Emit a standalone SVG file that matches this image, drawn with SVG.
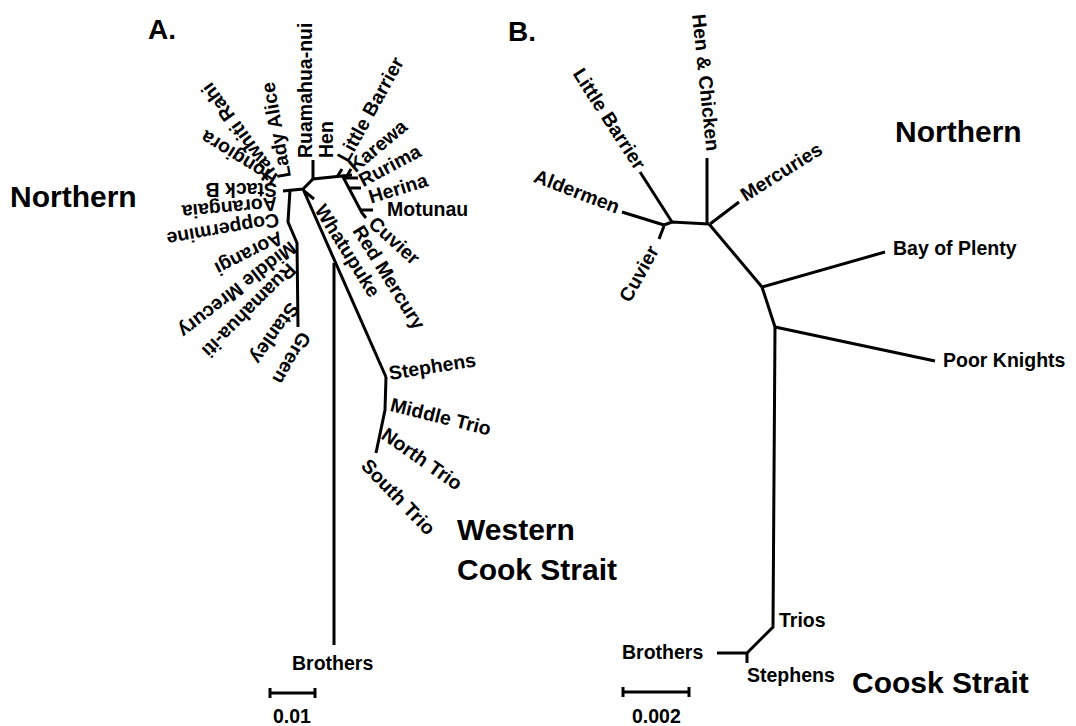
<svg xmlns="http://www.w3.org/2000/svg" width="1076" height="726" viewBox="0 0 1076 726">
<style>
.t{font-family:"Liberation Sans",Arial,sans-serif;font-weight:bold;font-size:19.5px;fill:#000;dominant-baseline:central}
.big{font-family:"Liberation Sans",Arial,sans-serif;font-weight:bold;font-size:30px;fill:#000}
.hd{font-family:"Liberation Sans",Arial,sans-serif;font-weight:bold;font-size:28px;fill:#000}
.e{fill:none;stroke:#000;stroke-width:3;stroke-linecap:butt;stroke-linejoin:miter}
</style>
<rect width="1076" height="726" fill="#fff"/>
<g id="connectors">
<!-- Panel A -->
<polyline class="e" points="283,191 303,189 313,179 352,175"/>
<polyline class="e" points="290,190 288,222 297,243 298,327"/>
<line class="e" x1="313" y1="179" x2="313" y2="160"/>
<line class="e" x1="337" y1="177" x2="342" y2="169"/>
<line class="e" x1="347" y1="176" x2="351" y2="169"/>
<polyline class="e" points="342,175 362,213 366,218"/>
<line class="e" x1="344" y1="178" x2="358" y2="178"/>
<line class="e" x1="349" y1="188" x2="361" y2="188"/>
<line class="e" x1="361" y1="210" x2="373" y2="210"/>
<line class="e" x1="303" y1="189" x2="386" y2="377"/>
<line class="e" x1="304" y1="191" x2="314" y2="199"/>
<line class="e" x1="334" y1="263" x2="334" y2="645"/>
<polyline class="e" points="386,377 385,410 376,453"/>
<line class="e" x1="270" y1="693" x2="315" y2="693"/>
<line class="e" x1="270" y1="688" x2="270" y2="698"/>
<line class="e" x1="315" y1="688" x2="315" y2="698"/>
<!-- Panel B -->
<line class="e" x1="640" y1="172" x2="672" y2="222"/>
<line class="e" x1="622" y1="212" x2="664" y2="225"/>
<line class="e" x1="664" y1="226" x2="659" y2="239"/>
<polyline class="e" points="664,225 672,222 709,224"/>
<line class="e" x1="707" y1="158" x2="707" y2="224"/>
<line class="e" x1="710" y1="224" x2="739" y2="202"/>
<line class="e" x1="709" y1="224" x2="762" y2="287"/>
<line class="e" x1="762" y1="287" x2="885" y2="252"/>
<line class="e" x1="762" y1="287" x2="775" y2="327"/>
<line class="e" x1="775" y1="327" x2="935" y2="361"/>
<polyline class="e" points="775,327 773,627 747,653 717,653"/>
<line class="e" x1="747" y1="653" x2="747" y2="663"/>
<line class="e" x1="623" y1="692" x2="689" y2="692"/>
<line class="e" x1="623" y1="687" x2="623" y2="697"/>
<line class="e" x1="689" y1="687" x2="689" y2="697"/>
</g>
<g id="panel-labels">
<text class="hd" x="148" y="39">A.</text>
<text class="hd" x="508" y="41">B.</text>
<text class="big" x="10" y="207">Northern</text>
<text class="big" x="457" y="540">Western</text>
<text class="big" x="457" y="580">Cook Strait</text>
<text class="big" x="895" y="142">Northern</text>
<text class="big" x="852" y="693">Coosk Strait</text>
</g>
<g id="A-Ruamahua-nui"><text class="t" transform="translate(305,158) rotate(-90)">Ruamahua-nui</text></g>
<g id="A-Lady-Alice"><text class="t" transform="translate(284,178) rotate(-100)">Lady Alice</text></g>
<g id="A-Tawhiti-Rahi"><text class="t" transform="translate(272,177) rotate(-126)">Tawhiti Rahi</text></g>
<g id="A-Hongiora"><text class="t" transform="translate(275,181) rotate(-148)">Hongiora</text></g>
<g id="A-Stack-B"><text class="t" transform="translate(277,190) rotate(180)">Stack B</text></g>
<g id="A-Aorangaia"><text class="t" transform="translate(277,204) rotate(175)">Aorangaia</text></g>
<g id="A-Coppermine"><text class="t" transform="translate(279,220) rotate(170)">Coppermine</text></g>
<g id="A-Aorangi"><text class="t" transform="translate(282,237) rotate(153)">Aorangi</text></g>
<g id="A-Middle-Mrecury"><text class="t" transform="translate(294,246) rotate(142)">Middle Mrecury</text></g>
<g id="A-Ruamahua-iti"><text class="t" transform="translate(293,267) rotate(135)">Ruamahua-iti</text></g>
<g id="A-Stanley"><text class="t" transform="translate(295,305) rotate(125)">Stanley</text></g>
<g id="A-Green"><text class="t" transform="translate(306,334) rotate(120)">Green</text></g>
<g id="A-Hen"><text class="t" transform="translate(326,158) rotate(-90)">Hen</text></g>
<g id="A-Little-Barrier"><text class="t" transform="translate(342,160) rotate(-61)">Little Barrier</text></g>
<g id="A-Karewa"><text class="t" transform="translate(351,168) rotate(-40)">Karewa</text></g>
<g id="A-Rurima"><text class="t" transform="translate(360,181) rotate(-28)">Rurima</text></g>
<g id="A-Herina"><text class="t" transform="translate(369,197) rotate(-17)">Herina</text></g>
<g id="A-Motunau"><text class="t" x="387" y="209">Motunau</text></g>
<g id="A-Cuvier"><text class="t" transform="translate(372,220) rotate(42)">Cuvier</text></g>
<g id="A-Red-Mercury"><text class="t" transform="translate(358,227) rotate(58)">Red Mercury</text></g>
<g id="A-Whatupuke"><text class="t" transform="translate(320,206) rotate(58)">Whatupuke</text></g>
<g id="A-Stephens"><text class="t" transform="translate(389,373) rotate(-9)">Stephens</text></g>
<g id="A-Middle-Trio"><text class="t" transform="translate(391,404) rotate(14)">Middle Trio</text></g>
<g id="A-North-Trio"><text class="t" transform="translate(384,432) rotate(35)">North Trio</text></g>
<g id="A-South-Trio"><text class="t" transform="translate(365,462) rotate(46)">South Trio</text></g>
<g id="A-Brothers"><text class="t" x="292" y="663">Brothers</text></g>
<g id="A-scale"><text class="t" x="273" y="716">0.01</text></g>
<g id="B-Hen-Chicken"><text class="t" transform="translate(699,14) rotate(84)">Hen &amp; Chicken</text></g>
<g id="B-Little-Barrier"><text class="t" transform="translate(578,70) rotate(57)">Little Barrier</text></g>
<g id="B-Aldermen"><text class="t" transform="translate(535,175) rotate(21)">Aldermen</text></g>
<g id="B-Cuvier"><text class="t" transform="translate(624,300) rotate(-61)">Cuvier</text></g>
<g id="B-Mercuries"><text class="t" transform="translate(742,196) rotate(-32)">Mercuries</text></g>
<g id="B-Bay-of-Plenty"><text class="t" x="893" y="248">Bay of Plenty</text></g>
<g id="B-Poor-Knights"><text class="t" x="943" y="360">Poor Knights</text></g>
<g id="B-Trios"><text class="t" x="779" y="620">Trios</text></g>
<g id="B-Brothers"><text class="t" x="622" y="652">Brothers</text></g>
<g id="B-Stephens"><text class="t" x="747" y="675">Stephens</text></g>
<g id="B-scale"><text class="t" x="632" y="716">0.002</text></g>
</svg>
